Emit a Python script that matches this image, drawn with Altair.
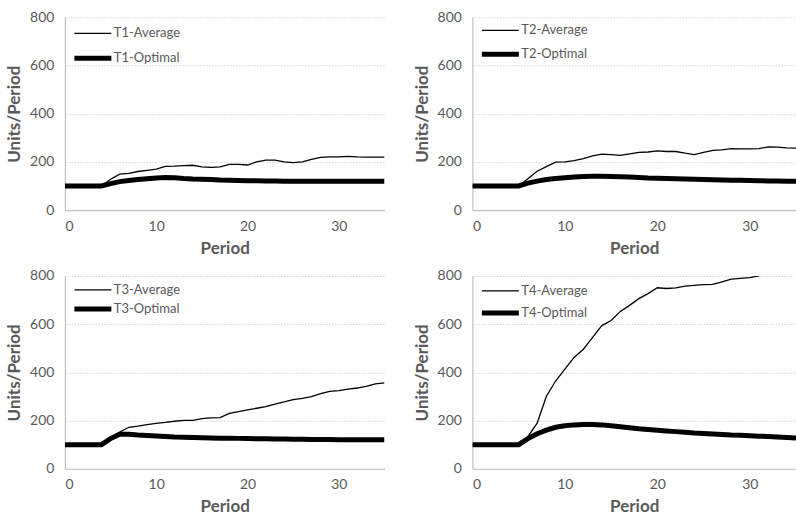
import altair as alt
import pandas as pd

periods = list(range(0, 36))

t1_avg = [100, 100, 100, 100, 100, 128, 149, 152, 160, 165, 170, 181, 182, 184, 186, 179, 177, 179,
          190, 190, 187, 200, 207, 207, 200, 197, 200, 210, 219, 221, 221, 223, 221, 220, 220, 220]
t1_opt = [100, 100, 100, 100, 100, 110, 118, 123, 127, 130, 133, 135, 134, 131, 129, 128, 127, 125,
          124, 123, 122, 122, 121, 121, 120, 120, 120, 120, 120, 120, 120, 120, 120, 120, 120, 120]

t2_avg = [100, 100, 100, 100, 100, 100, 130, 161, 180, 199, 200, 205, 213, 225, 232, 230, 227, 233,
          239, 241, 246, 243, 243, 236, 230, 239, 248, 250, 255, 254, 254, 255, 262, 261, 258, 257]
t2_opt = [100, 100, 100, 100, 100, 100, 112, 120, 127, 131, 134, 137, 139, 140, 140, 139, 138, 137,
          135, 133, 132, 131, 130, 129, 128, 127, 126, 125, 124, 124, 123, 122, 121, 121, 120, 120]

t3_avg = [100, 100, 100, 100, 100, 131, 152, 172, 177, 183, 188, 192, 197, 201, 201, 208, 211, 212,
          230, 237, 244, 251, 258, 268, 277, 287, 292, 299, 312, 321, 324, 330, 335, 342, 352, 356]
t3_opt = [100, 100, 100, 100, 100, 125, 143, 143, 140, 138, 136, 134, 132, 131, 130, 129, 128, 127,
          127, 126, 125, 124, 124, 123, 123, 122, 122, 121, 121, 121, 120, 120, 120, 120, 120, 120]

t4_avg = [100, 100, 100, 100, 100, 100, 133, 189, 301, 364, 413, 462, 496, 545, 594, 615, 653, 678,
          706, 727, 751, 748, 751, 758, 761, 764, 765, 776, 787, 790, 793, 800]
t4_opt = [100, 100, 100, 100, 100, 100, 125, 145, 160, 172, 178, 182, 184, 184, 182, 178, 174, 170,
          166, 163, 160, 157, 154, 151, 148, 146, 144, 142, 140, 139, 137, 135, 134, 132, 130, 128]

x_ticks = [0, 10, 20, 30]
y_ticks = [0, 200, 400, 600, 800]

FONT = "Lato"
GREY = "#595959"


def panel(label, avg, opt, row_pad, leg_y, width):
    names = [f"{label}-Average", f"{label}-Optimal"]
    df = pd.DataFrame({
        "Period": periods[:len(avg)] + periods[:len(opt)],
        "Value": avg + opt,
        "Series": [names[0]] * len(avg) + [names[1]] * len(opt),
    })
    return alt.Chart(df).mark_line(color="black", clip=True).encode(
        x=alt.X("Period:Q", scale=alt.Scale(domain=[0, 35], nice=False, zero=False),
                axis=alt.Axis(values=x_ticks, title="Period", grid=False)),
        y=alt.Y("Value:Q", scale=alt.Scale(domain=[0, 800], nice=False),
                axis=alt.Axis(values=y_ticks, title="Units/Period", grid=True)),
        strokeWidth=alt.StrokeWidth(
            "Series:N",
            scale=alt.Scale(domain=names, range=[1.3, 5]),
            legend=alt.Legend(title=None, orient="none", legendX=7, legendY=leg_y,
                              symbolType="stroke", symbolSize=1369, clipHeight=16,
                              symbolStrokeColor="black", rowPadding=row_pad,
                              labelOffset=0, labelFont=FONT, labelFontSize=13,
                              labelColor=GREY),
        ),
        order="Period:Q",
    ).properties(width=width, height=193)


p1 = panel("T1", t1_avg, t1_opt, 9, 8, 320)
p2 = panel("T2", t2_avg, t2_opt, 8, 5, 324)
p3 = panel("T3", t3_avg, t3_opt, 3, 6, 320)
p4 = panel("T4", t4_avg, t4_opt, 6, 7, 324)

top = alt.hconcat(p1, p2, spacing=28).resolve_scale(strokeWidth="independent").resolve_legend(strokeWidth="independent")
bottom = alt.hconcat(p3, p4, spacing=28).resolve_scale(strokeWidth="independent").resolve_legend(strokeWidth="independent")

chart = alt.vconcat(top, bottom, spacing=13).resolve_scale(
    strokeWidth="independent"
).resolve_legend(strokeWidth="independent").properties(
    padding={"left": 5, "top": 10, "right": 0, "bottom": 0}
).configure_view(stroke=None).configure_axis(
    labelFont=FONT, labelFontSize=14, labelColor=GREY,
    titleFont=FONT, titleFontSize=17, titleFontWeight="bold", titleColor=GREY,
    domainColor="#bfbfbf", domainWidth=1.2, ticks=False,
    gridColor="#d4d4d4", gridDash=[1.5, 1.5], gridWidth=1,
).configure_axisX(labelPadding=9, titlePadding=7).configure_axisY(
    labelPadding=11, titlePadding=6
).configure_legend(symbolStrokeColor="black")

chart.save("out.html", embed_options={"renderer": "svg", "actions": False})
